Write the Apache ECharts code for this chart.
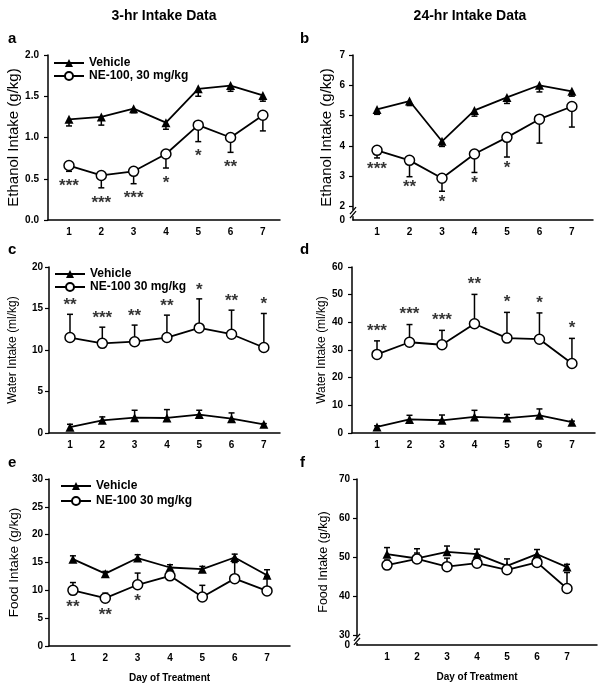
<!DOCTYPE html>
<html><head><meta charset="utf-8">
<script src="https://cdn.jsdelivr.net/npm/echarts@6/dist/echarts.min.js"></script>
<style>html,body{margin:0;padding:0;background:#fff}#c{width:604px;height:688px}</style>
</head><body><div id="c"></div><script>
// ---------- data ----------
const days = [1, 2, 3, 4, 5, 6, 7];
const titles = ['3-hr Intake Data', '24-hr Intake Data'];
const panelLetters = ['a', 'b', 'c', 'd', 'e', 'f'];
const yNames = ['Ethanol Intake (g/kg)', 'Ethanol Intake (g/kg)', 'Water Intake (ml/kg)', 'Water Intake (ml/kg)', 'Food Intake (g/kg)', 'Food Intake (g/kg)'];
const xName = 'Day of Treatment';
const vehName = 'Vehicle';
const neNameA = 'NE-100, 30 mg/kg';
const neName = 'NE-100 30 mg/kg';

// a: 3-hr ethanol
const aVeh = [1.22, 1.25, 1.35, 1.18, 1.59, 1.63, 1.51];
const aVehErr = [0.08, 0.10, 0.05, 0.08, 0.09, 0.07, 0.07];
const aNE = [0.66, 0.54, 0.59, 0.80, 1.15, 1.00, 1.27];
const aNEErr = [0.07, 0.15, 0.15, 0.17, 0.20, 0.18, 0.19];
const aStars = ['***', '***', '***', '*', '*', '**', ''];
// b: 24-hr ethanol
const bVeh = [5.20, 5.48, 4.15, 5.17, 5.60, 6.00, 5.80];
const bVehErr = [0.16, 0.15, 0.17, 0.19, 0.20, 0.22, 0.16];
const bNE = [3.85, 3.52, 2.93, 3.73, 4.28, 4.88, 5.30];
const bNEErr = [0.25, 0.54, 0.43, 0.61, 0.65, 0.79, 0.68];
const bStars = ['***', '**', '*', '*', '*', '', ''];
// c: 3-hr water
const cVeh = [0.7, 1.53, 1.85, 1.81, 2.22, 1.73, 1.05];
const cVehErr = [0.35, 0.41, 0.89, 1.01, 0.52, 0.69, 0.08];
const cNE = [11.5, 10.8, 11.0, 11.5, 12.66, 11.9, 10.3];
const cNEErr = [2.8, 1.95, 2.0, 2.7, 3.5, 2.9, 4.1];
const cStars = ['**', '***', '**', '**', '*', '**', '*'];
// d: 24-hr water
const dVeh = [2.2, 4.9, 4.6, 5.8, 5.4, 6.4, 3.9];
const dVehErr = [0.4, 1.5, 1.9, 2.4, 1.3, 2.3, 0.4];
const dNE = [28.4, 32.8, 31.9, 39.5, 34.3, 33.9, 25.1];
const dNEErr = [4.9, 6.4, 5.2, 10.6, 9.3, 9.5, 9.1];
const dStars = ['***', '***', '***', '**', '*', '*', '*'];
// e: 3-hr food
const eVeh = [15.6, 13.0, 15.8, 14.1, 13.8, 15.9, 12.7];
const eVehErr = [0.6, 0.4, 0.6, 0.5, 0.5, 0.6, 1.0];
const eNE = [10.0, 8.6, 11.0, 12.6, 8.8, 12.1, 9.9];
const eNEErr = [1.4, 0.9, 2.1, 0.9, 2.1, 2.9, 2.6];
const eStars = ['**', '**', '*', '', '', '', ''];
// f: 24-hr food
const fVeh = [50.7, 49.6, 51.3, 50.7, 47.7, 50.7, 47.4];
const fVehErr = [1.7, 2.5, 1.5, 1.3, 1.8, 1.2, 0.7];
const fNE = [47.9, 49.5, 47.5, 48.4, 46.7, 48.6, 41.9];
const fNEErr = [1.3, 1.5, 2.2, 1.5, 1.0, 1.2, 4.1];
const fStars = ['', '', '', '', '', '', ''];

const yTicksB = [2, 3, 4, 5, 6, 7];
const yTicksF = [30, 40, 50, 60, 70];
const breakLabel = '0';

// ---------- layout / style ----------
const FONT = '"Liberation Sans", Arial, sans-serif';
const grids = [
  {left: 48, top: 55, width: 232, height: 165},
  {left: 353, top: 55, width: 240, height: 165},
  {left: 49, top: 267, width: 231, height: 166},
  {left: 352, top: 267, width: 243, height: 166},
  {left: 49, top: 479, width: 241, height: 167},
  {left: 357, top: 479, width: 240, height: 166}
];
const xRanges = [[0.35, 7.53], [0.26, 7.65], [0.35, 7.5], [0.23, 7.71], [0.26, 7.71], [0, 8]];
const nameFont = [15, 15, 12, 12, 13.5, 12.5];
const nameGaps = [27, 19, 30, 23, 28, 27];
const labelMargins = [9, 8, 6, 9, 6, 7];

const panels = [
  {veh: aVeh, vehErr: aVehErr, ne: aNE, neErr: aNEErr, stars: aStars, dir: -1, starMode: 'end', starPos: 'bottom', starDist: 7, neName: neNameA},
  {veh: bVeh, vehErr: bVehErr, ne: bNE, neErr: bNEErr, stars: bStars, dir: -1, starMode: 'end', starPos: 'bottom', starDist: 3, neName: neNameA},
  {veh: cVeh, vehErr: cVehErr, ne: cNE, neErr: cNEErr, stars: cStars, dir: 1, starMode: 'end', starPos: 'top', starDist: 1, neName: neName},
  {veh: dVeh, vehErr: dVehErr, ne: dNE, neErr: dNEErr, stars: dStars, dir: 1, starMode: 'end', starPos: 'top', starDist: 2, neName: neName},
  {veh: eVeh, vehErr: eVehErr, ne: eNE, neErr: eNEErr, stars: eStars, dir: 1, starMode: 'mean', starPos: 'bottom', starDist: 9, neName: neName},
  {veh: fVeh, vehErr: fVehErr, ne: fNE, neErr: fNEErr, stars: fStars, dir: 1, starMode: 'mean', starPos: 'bottom', starDist: 9, neName: neName}
];

function errRender(params, api) {
  const p0 = api.coord([api.value(0), api.value(1)]);
  const p1 = api.coord([api.value(0), api.value(2)]);
  const hw = 3;
  const st = {stroke: '#000', lineWidth: 1.5};
  return {type: 'group', children: [
    {type: 'line', shape: {x1: p0[0], y1: p0[1], x2: p1[0], y2: p1[1]}, style: st},
    {type: 'line', shape: {x1: p1[0] - hw, y1: p1[1], x2: p1[0] + hw, y2: p1[1]}, style: st}
  ]};
}

const xAxes = [], yAxes = [], series = [];
panels.forEach((p, i) => {
  xAxes.push({
    gridIndex: i, type: 'value', min: xRanges[i][0], max: xRanges[i][1],
    axisLine: {lineStyle: {color: '#000', width: 1.5}},
    axisTick: {show: false}, splitLine: {show: false},
    axisLabel: {customValues: days, color: '#000', fontFamily: FONT, fontWeight: 'bold', fontSize: 10, margin: 7},
    name: i >= 4 ? xName : '', nameLocation: 'middle', nameGap: 27,
    nameTextStyle: {color: '#000', fontFamily: FONT, fontWeight: 'bold', fontSize: 10}
  });
  const y = {
    gridIndex: i, type: 'value',
    axisLine: {show: true, lineStyle: {color: '#000', width: 1.5}},
    axisTick: {show: true, length: 4, lineStyle: {color: '#000', width: 1.2}},
    splitLine: {show: false},
    axisLabel: {color: '#000', fontFamily: FONT, fontWeight: 'bold', fontSize: 10, margin: labelMargins[i], hideOverlap: false, lineHeight: 10},
    name: yNames[i], nameLocation: 'middle', nameGap: nameGaps[i],
    nameTextStyle: {color: '#000', fontFamily: FONT, fontSize: nameFont[i]}
  };
  if (i === 0) { y.min = 0; y.max = 2; y.interval = 0.5; y.axisLabel.formatter = v => v.toFixed(1); }
  if (i === 1) {
    y.min = 1.55; y.max = 7;
    y.axisLabel.customValues = [1.55].concat(yTicksB);
    y.axisLabel.formatter = v => v < 2 ? breakLabel : String(v);
    y.axisTick.customValues = yTicksB;
  }
  if (i === 2) { y.min = 0; y.max = 20; y.interval = 5; }
  if (i === 3) { y.min = 0; y.max = 60; y.interval = 10; }
  if (i === 4) { y.min = 0; y.max = 30; y.interval = 5; }
  if (i === 5) {
    y.min = 27.4; y.max = 70;
    y.axisLabel.customValues = [27.4].concat(yTicksF);
    y.axisLabel.formatter = v => v < 30 ? breakLabel : String(v);
    y.axisLabel.showMinLabel = true;
    y.axisTick.customValues = yTicksF;
  }
  yAxes.push(y);

  const common = {xAxisIndex: i, yAxisIndex: i};
  series.push(Object.assign({
    name: 'errVeh' + i, type: 'custom', renderItem: errRender, z: 1,
    encode: {x: 0, y: [1, 2]},
    data: days.map((d, k) => [d, p.veh[k], p.veh[k] + p.dir * p.vehErr[k]])
  }, common));
  series.push(Object.assign({
    name: 'errNE' + i, type: 'custom', renderItem: errRender, z: 1,
    encode: {x: 0, y: [1, 2]},
    data: days.map((d, k) => [d, p.ne[k], p.ne[k] + p.dir * p.neErr[k]])
  }, common));
  series.push(Object.assign({
    name: vehName, type: 'line', z: 3,
    symbol: 'triangle', symbolSize: 9, showAllSymbol: true,
    itemStyle: {color: '#000'}, lineStyle: {color: '#000', width: 1.8},
    data: days.map((d, k) => [d, p.veh[k]])
  }, common));
  series.push(Object.assign({
    name: p.neName, type: 'line', z: 4,
    symbol: 'circle', symbolSize: 10, showAllSymbol: true,
    itemStyle: {color: '#fff', borderColor: '#000', borderWidth: 1.5},
    lineStyle: {color: '#000', width: 1.8},
    data: days.map((d, k) => [d, p.ne[k]])
  }, common));
  series.push(Object.assign({
    name: 'stars' + i, type: 'scatter', z: 5, symbolSize: 0,
    data: days.map((d, k) => [d, p.starMode === 'end' ? p.ne[k] + p.dir * p.neErr[k] : p.ne[k]]),
    label: {
      show: true, position: p.starPos, distance: p.starDist,
      formatter: prm => p.stars[prm.dataIndex],
      color: '#000', fontFamily: FONT, fontWeight: 'bold', fontSize: 17, lineHeight: 16
    }
  }, common));
});

function legend(left, top, gap, names) {
  return {
    left: left, top: top, orient: 'vertical', itemGap: gap, itemWidth: 30, itemHeight: 10,
    padding: 0, selectedMode: false, data: names,
    textStyle: {color: '#000', fontFamily: FONT, fontWeight: 'bold', fontSize: 12}
  };
}

const graphics = [];
const titleX = [164, 470];
titles.forEach((t, k) => graphics.push({type: 'text', x: titleX[k], y: 16,
  style: {text: t, fill: '#000', font: 'bold 14px ' + FONT, textAlign: 'center', textVerticalAlign: 'middle'}}));
const letterPos = [[8, 39], [300, 39], [8, 250], [300, 250], [8, 463], [300, 463]];
panelLetters.forEach((l, k) => graphics.push({type: 'text', x: letterPos[k][0], y: letterPos[k][1],
  style: {text: l, fill: '#000', font: 'bold 15px ' + FONT, textAlign: 'left', textVerticalAlign: 'middle'}}));

const chart = echarts.init(document.getElementById('c'), null, {renderer: 'canvas'});
chart.setOption({
  animation: false,
  backgroundColor: '#fff',
  grid: grids,
  xAxis: xAxes,
  yAxis: yAxes,
  series: series,
  legend: [
    legend(53, 57, 1, [vehName, neNameA]),
    legend(54, 268, 1, [vehName, neName]),
    legend(60, 480, 3, [vehName, neName])
  ],
  graphic: graphics
});

// axis-break marks on panels b and f
function breakMarks(gi, lowVal, highVal) {
  const g = grids[gi];
  const pHi = chart.convertToPixel({gridIndex: gi}, [xRanges[gi][0], highVal]);
  const pLo = chart.convertToPixel({gridIndex: gi}, [xRanges[gi][0], lowVal]);
  const x = g.left, cy = (pHi[1] + pLo[1]) / 2;
  const st = {stroke: '#000', lineWidth: 1.3};
  return [
    {type: 'rect', shape: {x: x - 2, y: cy - 3, width: 4, height: 6}, style: {fill: '#fff'}, z: 50},
    {type: 'line', shape: {x1: x - 3, y1: cy + 1, x2: x + 3, y2: cy - 6}, style: st, z: 51},
    {type: 'line', shape: {x1: x - 3, y1: cy + 5, x2: x + 3, y2: cy - 2}, style: st, z: 51}
  ];
}
chart.setOption({graphic: graphics.concat(breakMarks(1, 1.55, 2), breakMarks(5, 27.4, 30))});
</script></body></html>
